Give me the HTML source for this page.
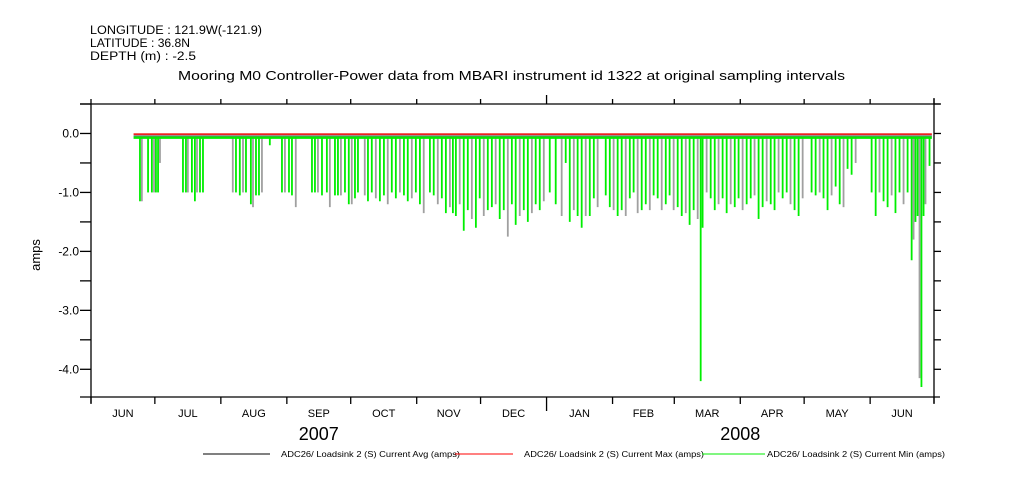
<!DOCTYPE html>
<html><head><meta charset="utf-8"><style>
body{margin:0;background:#fff;}
svg{display:block;font-family:"Liberation Sans",sans-serif;}
</style></head><body>
<svg id="chart" width="1009" height="504" viewBox="0 0 1009 504">
<g font-size="11.5" fill="#000">
<text x="90" y="34" textLength="172" lengthAdjust="spacingAndGlyphs">LONGITUDE : 121.9W(-121.9)</text>
<text x="90" y="47" textLength="100" lengthAdjust="spacingAndGlyphs">LATITUDE : 36.8N</text>
<text x="90" y="60" textLength="106" lengthAdjust="spacingAndGlyphs">DEPTH (m) : -2.5</text>
<text x="178" y="80" textLength="667" lengthAdjust="spacingAndGlyphs" font-size="13">Mooring M0 Controller-Power data from MBARI instrument id 1322 at original sampling intervals</text>
</g>
<text transform="translate(40,255) rotate(-90)" text-anchor="middle" font-size="13">amps</text>
<g id="marks"></g>
<g id="axes" stroke="#000" stroke-width="1.3"></g>
<g font-size="8">
<line x1="203" y1="454" x2="270" y2="454" stroke="#000"/>
<text x="281" y="457" textLength="179" lengthAdjust="spacingAndGlyphs">ADC26/ Loadsink 2 (S) Current Avg (amps)</text>
<line x1="455" y1="454" x2="513" y2="454" stroke="#f00"/>
<text x="524" y="457" textLength="180" lengthAdjust="spacingAndGlyphs">ADC26/ Loadsink 2 (S) Current Max (amps)</text>
<line x1="702" y1="454" x2="765" y2="454" stroke="#0e0"/>
<text x="767" y="457" textLength="178" lengthAdjust="spacingAndGlyphs">ADC26/ Loadsink 2 (S) Current Min (amps)</text>
</g>
</svg>
<script>
// days since 2007-06-01
const spikeDays=[23.0,23.9,26.8,28.6,29.6,30.5,31.5,32.4,43.2,44.6,45.5,47.4,48.8,49.8,51.2,52.6,
66.6,68.1,69.9,71.4,72.8,75.1,76.1,77.5,78.9,80.3,84.0,89.7,91.1,93.0,94.4,96.2,
103.8,105.2,106.6,108.5,110.8,112.2,114.6,116.0,117.4,119.3,121.1,122.5,124.0,125.4,
128.6,130.1,131.9,133.8,135.7,137.6,139.4,141.3,143.2,145.1,147.0,148.8,150.7,152.6,154.5,156.3,
159.2,161.0,162.9,164.8,166.7,168.6,170.0,171.4,173.2,175.1,177.0,178.9,180.8,182.6,184.5,186.4,
188.3,190.1,192.0,193.9,195.8,197.7,199.5,201.4,203.3,205.2,207.1,208.9,210.8,212.7,
215.5,218.3,221.1,223.0,224.9,226.8,228.6,230.5,232.4,234.3,236.2,238.0,
241.8,243.7,245.5,247.4,249.3,251.2,253.1,254.9,256.8,258.7,260.6,262.5,264.3,266.2,268.1,270.0,271.8,
273.7,275.6,277.5,279.4,281.2,283.1,285.0,286.4,287.3,289.2,291.1,293.0,294.8,296.7,298.6,300.5,302.4,304.2,
306.1,308.0,309.9,311.7,313.6,315.5,317.4,319.3,321.1,323.0,324.9,326.8,328.6,330.5,332.4,334.3,
338.5,340.4,342.3,344.1,346.0,347.9,349.8,351.7,353.5,355.4,357.3,359.2,
366.7,368.6,370.4,372.3,374.2,376.1,377.9,379.8,381.7,383.6,385.5,386.4,387.3,388.3,389.2,390.1,391.1,392.0,393.9];
const minValues=[-1.15,-1.15,-1.0,-1.0,-1.0,-1.0,-1.0,-0.5,-1.0,-1.0,-1.0,-1.0,-1.15,-1.0,-1.0,-1.0,
-1.0,-1.0,-1.05,-1.0,-1.0,-1.2,-1.25,-1.05,-1.05,-1.0,-0.2,-1.0,-1.0,-1.0,-1.05,-1.25,
-1.0,-1.0,-1.0,-1.05,-1.0,-1.25,-1.05,-1.05,-1.05,-1.0,-1.2,-1.2,-1.1,-1.0,
-1.05,-1.15,-1.0,-1.1,-1.15,-1.05,-1.2,-1.0,-1.1,-1.0,-1.05,-1.15,-1.1,-1.0,-1.2,-1.35,
-1.0,-1.05,-1.2,-1.1,-1.35,-1.25,-1.35,-1.4,-1.2,-1.65,-1.3,-1.45,-1.6,-1.1,-1.4,-1.3,
-1.25,-1.2,-1.45,-1.3,-1.75,-1.2,-1.55,-1.4,-1.3,-1.5,-1.35,-1.2,-1.3,-1.15,
-1.0,-1.2,-1.4,-0.5,-1.5,-1.3,-1.4,-1.6,-1.4,-1.4,-1.1,-1.25,
-1.05,-1.25,-1.3,-1.4,-1.3,-1.4,-1.1,-1.0,-1.35,-1.3,-1.2,-1.3,-1.05,-1.1,-1.3,-1.2,-1.05,
-1.3,-1.25,-1.4,-1.35,-1.55,-1.3,-1.45,-4.2,-1.6,-1.0,-1.1,-1.3,-1.2,-1.1,-1.35,-1.2,-1.25,-1.1,
-1.3,-1.2,-1.1,-1.05,-1.45,-1.25,-1.15,-1.2,-1.3,-1.0,-1.1,-1.0,-1.2,-1.3,-1.4,-1.1,
-1.0,-1.05,-1.0,-1.1,-1.3,-1.05,-0.9,-1.2,-1.25,-0.6,-0.7,-0.5,
-1.0,-1.4,-1.0,-1.15,-1.25,-1.05,-1.35,-1.0,-1.2,-1.0,-2.15,-1.8,-1.5,-1.4,-4.15,-4.3,-1.4,-1.2,-0.55];
const seriesStart=20, seriesEnd=395;
const avgValue=-0.04, maxValue=-0.01, minBase=-0.07;
const monthLabels=["JUN","JUL","AUG","SEP","OCT","NOV","DEC","JAN","FEB","MAR","APR","MAY","JUN"];
const monthStartDays=[0,30,61,92,122,153,183,214,245,274,305,335,366,396];
const yearLabels=["2007","2008"];
const yearCenterDays=[107,305];
const yTickValues=[0,-1,-2,-3,-4];
const yTickLabels=["0.0","-1.0","-2.0","-3.0","-4.0"];

const NS="http://www.w3.org/2000/svg";
const X0=91,X1=934,Y0=104,Y1=397,D0=0,D1=396,V0=0.5,V1=-4.47;
const xS=d=>X0+(d-D0)/(D1-D0)*(X1-X0);
const yS=v=>Y0+(V0-v)/(V0-V1)*(Y1-Y0);
function mk(tag,attrs,parent){const e=document.createElementNS(NS,tag);for(const k in attrs)e.setAttribute(k,attrs[k]);parent.appendChild(e);return e;}
const marks=document.getElementById('marks'), axes=document.getElementById('axes');

spikeDays.forEach((d,i)=>{
  const l=mk('line',{x1:xS(d),x2:xS(d),y1:yS(minBase),y2:yS(minValues[i]),stroke:(i%3===1?'#a0a0a0':'#00ee00'),'stroke-width':1.8},marks);
  
  
});
const mn=mk('line',{x1:xS(seriesStart),x2:xS(seriesEnd),y1:yS(minBase),y2:yS(minBase),stroke:'#00ee00','stroke-width':2.5},marks);


const mx=mk('line',{x1:xS(seriesStart),x2:xS(seriesEnd),y1:yS(maxValue),y2:yS(maxValue),stroke:'#e00','stroke-width':1.5},marks);


const av=mk('line',{x1:xS(seriesStart),x2:xS(seriesEnd),y1:yS(avgValue),y2:yS(avgValue),stroke:'#555','stroke-width':1},marks);



mk('line',{x1:80,x2:940,y1:Y0,y2:Y0},axes);
mk('line',{x1:80,x2:940,y1:Y1,y2:Y1},axes);
mk('line',{x1:X0,x2:X0,y1:Y0,y2:Y1+6},axes);
mk('line',{x1:X1,x2:X1,y1:Y0-6,y2:Y1+6},axes);
for(let v=0.5;v>=-4.5;v-=0.5){
  if(yS(v)<Y0-1||yS(v)>Y1+1)continue;
  mk('line',{x1:80,x2:X0,y1:yS(v),y2:yS(v)},axes);
  mk('line',{x1:X1,x2:X1+7,y1:yS(v),y2:yS(v)},axes);
}
yTickValues.forEach((v,i)=>{
  const t=mk('text',{x:79,y:yS(v)+4,'text-anchor':'end','font-size':12,stroke:'none',fill:'#000'},document.getElementById('chart'));
  t.textContent=yTickLabels[i];
  
  
});
monthStartDays.forEach((d,i)=>{
  const x=xS(d), long=(i===7);
  mk('line',{x1:x,x2:x,y1:Y1,y2:Y1+(long?14:7)},axes);
  mk('line',{x1:x,x2:x,y1:Y0,y2:Y0-(long?9:5)},axes);
});
monthLabels.forEach((m,i)=>{
  const t=mk('text',{x:(xS(monthStartDays[i])+xS(monthStartDays[i+1]))/2,y:417,'text-anchor':'middle','font-size':11,fill:'#000'},document.getElementById('chart'));
  t.textContent=m;
  
  
});
yearLabels.forEach((y,i)=>{
  const t=mk('text',{x:xS(yearCenterDays[i]),y:440,'text-anchor':'middle','font-size':18,fill:'#000'},document.getElementById('chart'));
  t.textContent=y;
  
  
});
</script>
</body></html>
